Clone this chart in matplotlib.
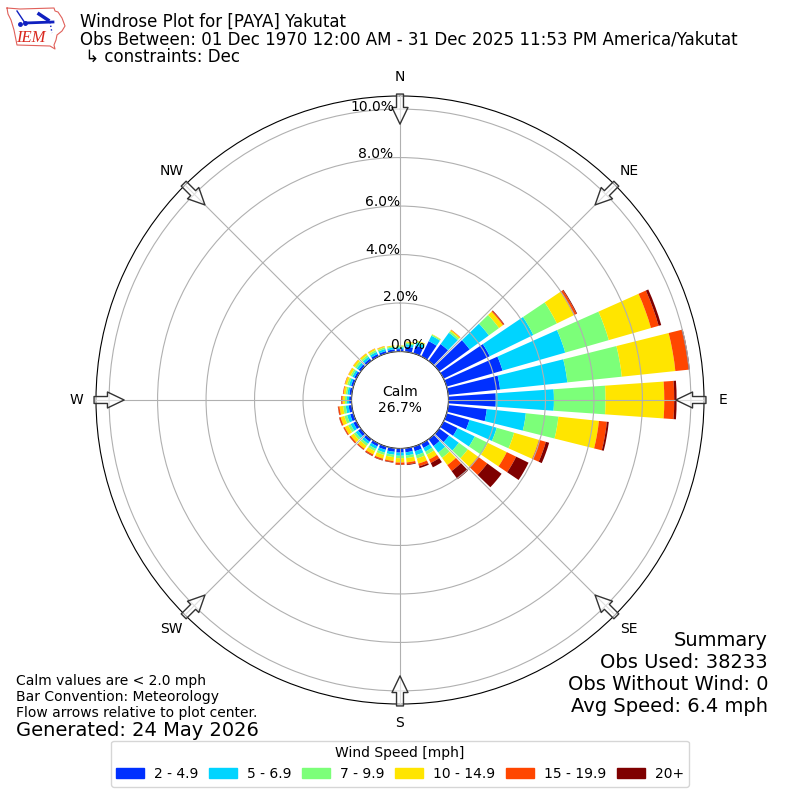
import numpy as np
import matplotlib
matplotlib.use('Agg')
import matplotlib.pyplot as plt
from matplotlib.patches import Patch

# wind direction bins, degrees
directions = list(range(10, 370, 10))
# frequency in percent for each speed class
speed_2_5 = [.22, .33, .70, .85, 1.55, 2.12, 2.40, 2.15, 1.95, 1.60, .98, .64, .50, .35, .20, .20, .17, .17,
             .15, .14, .13, .13, .14, .14, .14, .13, .10, .10, .10, .10, .11, .11, .11, .10, .10, .10]
speed_5_7 = [.10, .13, .25, .58, .98, 2.00, 2.69, 2.79, 2.40, 1.62, 1.17, .79, .50, .33, .17, .17, .13, .13,
             .12, .12, .12, .11, .12, .13, .13, .12, .09, .08, .09, .09, .10, .10, .10, .09, .08, .07]
speed_7_10 = [.06, .06, .05, .08, .52, 1.08, 1.87, 2.26, 2.13, 1.35, .75, .60, .46, .27, .14, .14, .11, .10,
              .10, .10, .10, .10, .10, .11, .12, .11, .08, .07, .08, .08, .09, .08, .08, .07, .05, .05]
speed_10_15 = [.04, .03, .02, .06, .20, .78, 1.81, 2.22, 2.42, 1.68, 1.06, .87, .51, .37, .22, .22, .18, .18,
               .16, .16, .15, .15, .15, .16, .16, .15, .10, .09, .09, .10, .09, .08, .07, .05, .04, .03]
speed_15_20 = [.01, 0, 0, .02, .05, .12, .33, .55, .41, .33, .30, .43, .48, .30, .16, .12, .08, .09,
               .05, .06, .06, .05, .06, .05, .06, .06, .05, .03, .02, .01, .01, .01, .01, .01, 0, 0]
speed_20 = [0, 0, 0, 0, .02, .03, .11, .05, .10, .08, .14, .57, .73, .42, .20, .07, .03, .01,
            .02, .02, .02, .01, .01, .01, .01, .01, .01, 0, 0, 0, 0, 0, 0, 0, 0, 0]

series = [speed_2_5, speed_5_7, speed_7_10, speed_10_15, speed_15_20, speed_20]
speed_labels = ['2 - 4.9', '5 - 6.9', '7 - 9.9', '10 - 14.9', '15 - 19.9', '20+']
colors = ['#0030ff', '#00d4ff', '#7cff79', '#ffe500', '#ff4600', '#7f0000']

ring_values = [0, 2, 4, 6, 8, 10]
ring_labels = ['0.0%', '2.0%', '4.0%', '6.0%', '8.0%', '10.0%']
# label centres in pixels, the labels do not sit on one spoke
ring_label_x = [408, 400, 383, 383, 376, 372]
ring_label_y = [345, 297, 250, 202, 154, 107]

compass = ['N', 'NE', 'E', 'SE', 'S', 'SW', 'W', 'NW']
compass_deg = [0, 45, 90, 135, 180, 225, 270, 315]

# logo outline
iowa_x = [7, 20, 54, 55, 58, 62, 65, 62, 57, 56, 54, 55, 50, 17, 16, 14, 11, 8, 7]
iowa_y = [8, 9, 8, 11, 12, 18, 26, 31, 35, 40, 45, 49, 46, 45, 40, 30, 20, 14, 8]

fig = plt.figure(figsize=(8, 8), dpi=100)
ax = fig.add_axes([0.12, 0.12, 0.76, 0.76], projection='polar')
ax.set_theta_zero_location('N')
ax.set_theta_direction(-1)

theta = np.radians(directions)
bottom = np.zeros(len(directions))
for vals, col in zip(series, colors):
    vals = np.array(vals)
    ax.bar(theta, vals, width=np.radians(8), bottom=bottom, color=col, linewidth=0)
    bottom = bottom + vals

ax.set_rorigin(-2)
ax.set_rlim(0, 10.54)
ax.set_rticks(ring_values)
ax.set_yticklabels([])
ax.set_xticks(np.radians(compass_deg))
ax.set_xticklabels(compass, fontsize=10)
ax.tick_params(axis='x', pad=3.5)
ax.grid(True, color='#b0b0b0', linewidth=0.8)
ax.set_axisbelow(False)

# flow arrows point at the plot centre
for d in compass_deg:
    ax.annotate('', xy=(np.radians(d), 9.38), xytext=(np.radians(d), 10.62),
                xycoords='data', textcoords='data', annotation_clip=False, zorder=5,
                arrowprops=dict(width=5, headwidth=11.5, headlength=12, shrink=0,
                                facecolor=(1, 1, 1, 0.6), edgecolor='#333333', linewidth=1))

for lab, x, y in zip(ring_labels, ring_label_x, ring_label_y):
    fig.text(x / 800, 1 - y / 800, lab, fontsize=10, ha='center', va='center', zorder=6)

fig.text(0.5, 1 - 400 / 800, 'Calm\n26.7%', fontsize=10, ha='center', va='center', multialignment='center')

# header
fig.text(0.1, 1 - 13 / 800, 'Windrose Plot for [PAYA] Yakutat\n'
         'Obs Between: 01 Dec 1970 12:00 AM - 31 Dec 2025 11:53 PM America/Yakutat\n'
         ' \u21b3 constraints: Dec', fontsize=12, ha='left', va='top', linespacing=0.96)

# summary and footnotes
fig.text(0.96, 1 - 716 / 800, 'Summary\nObs Used: 38233\nObs Without Wind: 0\nAvg Speed: 6.4 mph',
         fontsize=14, ha='right', va='bottom', multialignment='right')
fig.text(16 / 800, 1 - 720 / 800, 'Calm values are < 2.0 mph\nBar Convention: Meteorology\n'
         'Flow arrows relative to plot center.', fontsize=10, ha='left', va='bottom')
fig.text(16 / 800, 1 - 740 / 800, 'Generated: 24 May 2026', fontsize=14, ha='left', va='bottom')

handles = [Patch(color=c) for c in colors]
fig.legend(handles, speed_labels, title='Wind Speed [mph]', ncol=6, fontsize=10, loc='lower center',
           bbox_to_anchor=(0.5, 0.008), handlelength=2, handletextpad=0.7, columnspacing=0.8)

# IEM logo
logo = fig.add_axes([0, 1 - 60 / 800, 80 / 800, 60 / 800])
logo.set_xlim(0, 80)
logo.set_ylim(60, 0)
logo.axis('off')
logo.plot(iowa_x, iowa_y, color='#e0605a', linewidth=0.8)
logo.plot([25, 53], [23, 22], color='#1020c0', linewidth=2)
logo.plot([17, 25], [11, 23], color='#1020c0', linewidth=1)
logo.plot([39, 48], [14, 20], color='#1020c0', linewidth=2.5)
logo.plot([50, 52], [22, 33], color='#1020c0', linewidth=1, linestyle=':')
logo.plot([20, 25], [24, 23], 'o', color='#1020c0', markersize=2.5)
logo.text(31, 38, 'IEM', color='#d9281e', fontsize=12, family='Liberation Serif', style='italic',
          ha='center', va='center')

fig.savefig('out.png', dpi=100)
